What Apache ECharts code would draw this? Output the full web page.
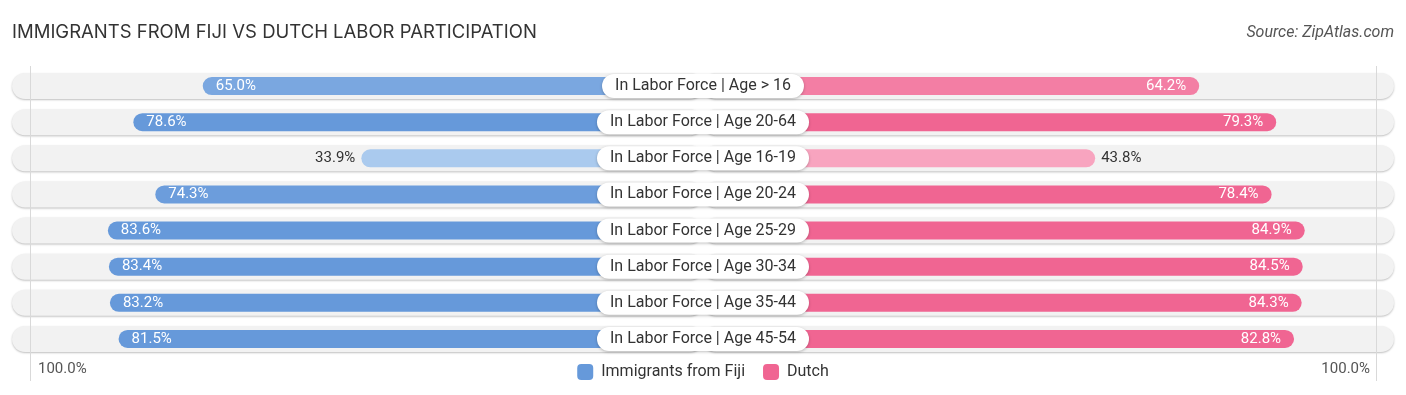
<!DOCTYPE html>
<html>
<head>
<meta charset="utf-8">
<script src="https://cdn.jsdelivr.net/npm/echarts@6/dist/echarts.min.js"></script>
<style>
html,body{margin:0;padding:0;background:#fff;}
#chart{width:1406px;height:395px;}
</style>
</head>
<body>
<div id="chart"></div>
<script>
const categories = [
  'In Labor Force | Age > 16',
  'In Labor Force | Age 20-64',
  'In Labor Force | Age 16-19',
  'In Labor Force | Age 20-24',
  'In Labor Force | Age 25-29',
  'In Labor Force | Age 30-34',
  'In Labor Force | Age 35-44',
  'In Labor Force | Age 45-54'
];
const fijiValues = [65.0, 78.6, 33.9, 74.3, 83.6, 83.4, 83.2, 81.5];
const dutchValues = [64.2, 79.3, 43.8, 78.4, 84.9, 84.5, 84.3, 82.8];
const seriesNames = ['Immigrants from Fiji', 'Dutch'];
const edgeLabels = ['100.0%', '100.0%'];

// layout constants (axis units = percent)
const OFFSET = 33.1;   // space hidden behind the centre label
const AXIS_MAX = 135.5;
const GUIDE = 132;

function mix(c1, c2, t) {
  const a = c1.match(/\w\w/g).map(h => parseInt(h, 16));
  const b = c2.match(/\w\w/g).map(h => parseInt(h, 16));
  return 'rgb(' + a.map((v, i) => Math.round(v + (b[i] - v) * t)).join(',') + ')';
}
function shade(light, strong, v) {
  const t = Math.max(0, Math.min(1, (v - 30) / (78 - 30)));
  return mix(light, strong, t);
}
const BLUE_L = '#b0cef0', BLUE_S = '#6699da';
const PINK_L = '#fbbdd1', PINK_S = '#f06592';

const fijiData = fijiValues.map(v => {
  const inside = v >= 50;
  return {
    value: -(OFFSET + v),
    itemStyle: { color: shade(BLUE_L, BLUE_S, v) },
    label: {
      show: true,
      position: inside ? 'insideLeft' : 'left',
      distance: inside ? 13 : 6,
      color: inside ? '#fff' : '#333',
      formatter: () => v.toFixed(1) + '%'
    }
  };
});
const dutchData = dutchValues.map(v => {
  const inside = v >= 50;
  return {
    value: OFFSET + v,
    itemStyle: { color: shade(PINK_L, PINK_S, v) },
    label: {
      show: true,
      position: inside ? 'insideRight' : 'right',
      distance: inside ? 13 : 6,
      color: inside ? '#fff' : '#333',
      formatter: () => v.toFixed(1) + '%'
    }
  };
});

const chart = echarts.init(document.getElementById('chart'), null, { renderer: 'canvas' });
const bgStyle = {
  color: '#f2f2f2',
  borderRadius: 13,
  shadowColor: 'rgba(0,0,0,0.25)',
  shadowBlur: 2,
  shadowOffsetY: 1
};
const option = {
  animation: false,
  backgroundColor: '#fff',
  title: [{
    text: 'IMMIGRANTS FROM FIJI VS DUTCH LABOR PARTICIPATION',
    left: 12, top: 23, padding: 0,
    textStyle: { fontFamily: 'Inter', fontSize: 18.5, fontWeight: 'normal', color: '#333' }
  }, {
    text: 'Source: ZipAtlas.com',
    right: 12, top: 25, padding: 0,
    textStyle: { fontFamily: 'Roboto', fontSize: 16, fontStyle: 'italic', fontWeight: 'normal', color: '#555' }
  }],
  legend: {
    data: seriesNames,
    left: 'center', top: 359,
    itemWidth: 16, itemHeight: 16, itemGap: 18,
    icon: 'roundRect',
    textStyle: { fontFamily: 'Roboto', fontSize: 16, color: '#333', padding: [0, 0, 0, 3] }
  },
  grid: { left: 12, right: 12, top: 68, height: 289 },
  xAxis: {
    type: 'value', min: -AXIS_MAX, max: AXIS_MAX,
    show: false
  },
  yAxis: [{
    type: 'category', data: categories, inverse: true,
    position: 'left', offset: -691, z: 10,
    axisLine: { show: false }, axisTick: { show: false }, splitLine: { show: false },
    axisLabel: {
      margin: 0, align: 'center',
      fontFamily: 'Roboto', fontSize: 16, color: '#333', lineHeight: 18,
      backgroundColor: '#fff', borderRadius: 12,
      padding: [3, 13, 3, 13],
      shadowColor: 'rgba(0,0,0,0.25)', shadowBlur: 3, shadowOffsetY: 1
    }
  }, {
    type: 'category', data: categories, inverse: true, show: false
  }],
  series: [{
    type: 'bar', name: 'bgL', yAxisIndex: 1, barWidth: 26, barGap: '-100%', silent: true,
    data: categories.map(() => -AXIS_MAX), itemStyle: bgStyle, z: 1
  }, {
    type: 'bar', name: 'bgR', yAxisIndex: 1, barWidth: 26, barGap: '-100%', silent: true,
    data: categories.map(() => AXIS_MAX), itemStyle: bgStyle, z: 1
  }, {
    type: 'bar', name: seriesNames[0], yAxisIndex: 0, barWidth: 18, barGap: '-100%', z: 3,
    itemStyle: { color: BLUE_S, borderRadius: 9 },
    label: { fontFamily: 'Roboto', fontSize: 15 },
    data: fijiData
  }, {
    type: 'bar', name: seriesNames[1], yAxisIndex: 0, barWidth: 18, barGap: '-100%', z: 3,
    itemStyle: { color: PINK_S, borderRadius: 9 },
    label: { fontFamily: 'Roboto', fontSize: 15 },
    data: dutchData
  }]
};
chart.setOption(option);

// guide lines at the ±GUIDE positions, placed through the x scale
const gx = [-GUIDE, GUIDE].map(v => Math.round(chart.convertToPixel({ xAxisIndex: 0 }, v)) + 0.5);
const graphics = gx.map((x, i) => ({
  type: 'line', id: 'guide' + i, silent: true, z: 5,
  shape: { x1: x, y1: 66, x2: x, y2: 381 },
  style: { stroke: '#d9d9d9', lineWidth: 1 }
}));
graphics.push({
  type: 'text', id: 'edgeL', left: 38, top: 362, z: 6,
  style: { text: edgeLabels[0], fontFamily: 'Roboto', fontSize: 15, fill: '#555' }
}, {
  type: 'text', id: 'edgeR', right: 36, top: 362, z: 6,
  style: { text: edgeLabels[1], fontFamily: 'Roboto', fontSize: 15, fill: '#555' }
});
chart.setOption({ graphic: graphics });
</script>
</body>
</html>
